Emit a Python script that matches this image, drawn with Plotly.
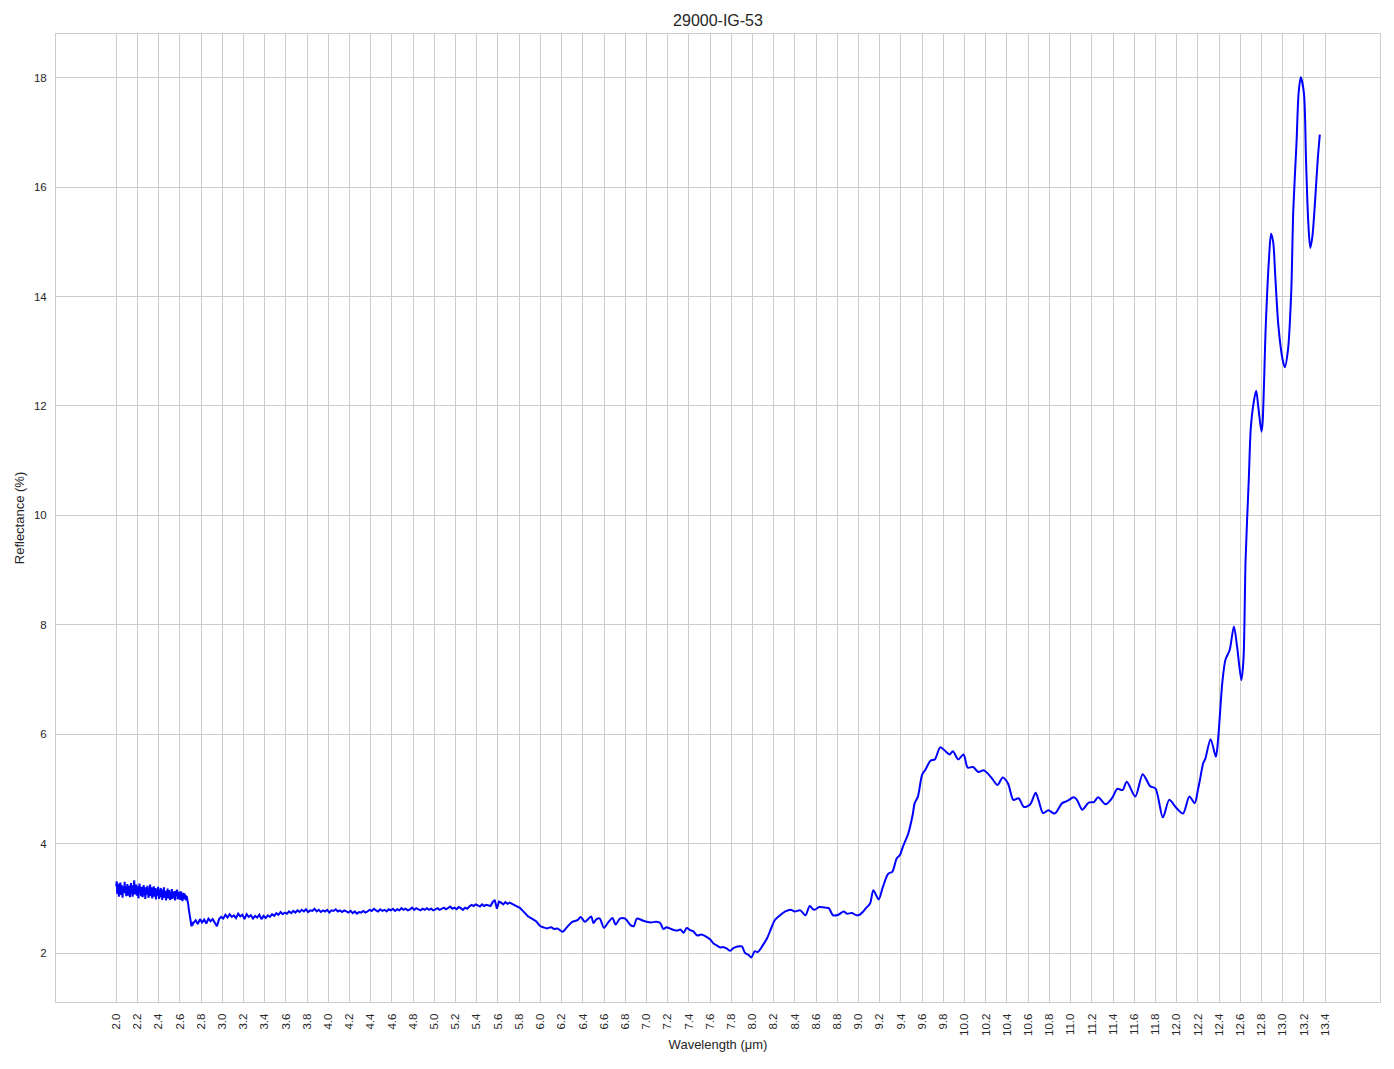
import numpy as np
import plotly.graph_objects as go

# ---- data ----
# noisy start: 2.000 .. 2.725, sampled every 0.005 um
noisy_start_wl0 = 2.000
noisy_start_step = 0.005
refl_noisy_start = [
    3.22, 3.31, 3.08, 3.14, 3.27, 3.03, 3.19, 3.12, 3.29, 3.06,
    3.18, 3.24, 3.01, 3.21, 3.10, 3.15, 3.30, 3.09, 3.20, 3.04,
    3.13, 3.26, 3.18, 3.05, 3.23, 3.11, 3.02, 3.20, 3.28, 3.08,
    3.17, 3.03, 3.24, 3.14, 3.33, 3.07, 3.19, 3.10, 3.25, 3.05,
    3.16, 3.22, 3.00, 3.13, 3.27, 3.09, 3.18, 3.04, 3.21, 3.12,
    3.02, 3.19, 3.24, 3.06, 3.15, 2.99, 3.20, 3.11, 3.07, 3.23,
    3.10, 3.01, 3.18, 3.13, 3.25, 3.04, 3.12, 3.20, 3.00, 3.16,
    3.08, 3.22, 3.03, 3.14, 3.19, 2.98, 3.11, 3.17, 3.05, 3.21,
    3.07, 2.99, 3.15, 3.10, 3.19, 3.02, 3.13, 2.97, 3.16, 3.06,
    3.20, 3.01, 3.09, 3.14, 2.96, 3.12, 3.05, 3.18, 3.00, 3.10,
    3.15, 3.03, 2.97, 3.12, 3.06, 3.17, 2.99, 3.08, 3.13, 3.01,
    3.11, 2.96, 3.14, 3.05, 3.09, 3.16, 2.98, 3.07, 3.12, 3.00,
    3.08, 2.97, 3.13, 3.02, 3.06, 2.95, 3.10, 3.03, 2.98, 3.09,
    3.01, 3.06, 2.96, 3.04, 3.00, 2.97,
    2.88, 2.80, 2.72, 2.65, 2.58, 2.53, 2.49, 2.55, 2.50, 2.57,
]

# plateau: 2.73 .. 5.89, sampled every 0.02 um
plateau_wl0 = 2.73
plateau_step = 0.02
refl_plateau = [
    2.55, 2.60, 2.53, 2.62, 2.56, 2.61, 2.54, 2.63, 2.58, 2.62,
    2.55, 2.49, 2.62, 2.66, 2.63, 2.70, 2.65, 2.71, 2.66, 2.69,
    2.64, 2.72, 2.67, 2.70, 2.62, 2.71, 2.66, 2.69, 2.63, 2.68,
    2.65, 2.70, 2.62, 2.68, 2.64, 2.69, 2.66, 2.71, 2.68, 2.73,
    2.70, 2.75, 2.71, 2.74, 2.72, 2.76, 2.73, 2.77, 2.74, 2.78,
    2.75, 2.79, 2.76, 2.80, 2.75, 2.78, 2.77, 2.81, 2.76, 2.79,
    2.75, 2.78, 2.76, 2.79, 2.74, 2.78, 2.77, 2.80, 2.76, 2.78,
    2.75, 2.78, 2.76, 2.74, 2.77, 2.73, 2.76, 2.72, 2.75, 2.74,
    2.77, 2.74, 2.76, 2.79, 2.77, 2.81, 2.78, 2.76, 2.80, 2.77,
    2.79, 2.76, 2.80, 2.78, 2.81, 2.77, 2.80, 2.78, 2.82, 2.79,
    2.81, 2.78, 2.80, 2.83, 2.79, 2.82, 2.80, 2.78, 2.81, 2.79,
    2.82, 2.79, 2.81, 2.78, 2.80, 2.82, 2.79, 2.81, 2.83, 2.80,
    2.82, 2.85, 2.81, 2.83, 2.80, 2.84, 2.82, 2.79, 2.83, 2.81,
    2.85, 2.88, 2.86, 2.89, 2.87, 2.85, 2.89, 2.86, 2.88, 2.87,
    2.86, 2.93, 2.97, 2.81, 2.94, 2.92, 2.89, 2.93, 2.90, 2.92,
    2.90, 2.87, 2.85, 2.83, 2.82, 2.78, 2.74, 2.70, 2.66,
]

# smoother long-wave part
wl_smooth = [
    5.89, 5.92, 5.96, 6.00, 6.03, 6.06, 6.10, 6.13, 6.16, 6.21, 6.25, 6.30, 6.35,
    6.38, 6.42, 6.45, 6.48, 6.50, 6.53, 6.56, 6.60, 6.64, 6.68, 6.71, 6.75,
    6.80, 6.85, 6.88, 6.91, 6.97, 7.04, 7.09, 7.13, 7.16, 7.19, 7.22, 7.26,
    7.29, 7.32, 7.35, 7.38, 7.41, 7.44, 7.48, 7.52, 7.57, 7.60, 7.63, 7.67,
    7.70, 7.72, 7.76, 7.79, 7.82, 7.86, 7.90, 7.93, 7.96, 7.99, 8.02, 8.05,
    8.10, 8.14, 8.17, 8.21, 8.26, 8.31, 8.36, 8.40, 8.45, 8.50, 8.54, 8.58,
    8.63, 8.69, 8.72, 8.76, 8.81, 8.86, 8.89, 8.94, 8.98, 9.01, 9.04, 9.07,
    9.11, 9.14, 9.19, 9.23, 9.28, 9.32, 9.36, 9.39, 9.42, 9.47, 9.51, 9.53,
    9.56, 9.60, 9.63, 9.68, 9.72, 9.77, 9.82, 9.86, 9.89, 9.94, 9.99, 10.03,
    10.08, 10.13, 10.18, 10.22, 10.26, 10.31, 10.36, 10.41, 10.46, 10.51,
    10.56, 10.62, 10.67, 10.70, 10.74, 10.79, 10.85, 10.92, 10.97, 11.03,
    11.06, 11.11, 11.17, 11.22, 11.26, 11.33, 11.39, 11.44, 11.49, 11.53,
    11.61, 11.68, 11.75, 11.80, 11.87, 11.93, 11.99, 12.06, 12.12, 12.17,
    12.20, 12.22, 12.25, 12.27, 12.32, 12.37, 12.39, 12.43, 12.46, 12.50,
    12.54, 12.57, 12.61, 12.63, 12.65, 12.68, 12.70, 12.73, 12.75, 12.77,
    12.80, 12.81, 12.84, 12.87, 12.89, 12.91, 12.93, 12.96, 13.00, 13.02,
    13.05, 13.08, 13.10, 13.13, 13.15, 13.17, 13.20, 13.22, 13.24, 13.26,
    13.28, 13.31, 13.33, 13.35,
]
refl_smooth = [
    2.66, 2.63, 2.58, 2.49, 2.47, 2.45, 2.47, 2.44, 2.45, 2.39, 2.47, 2.57, 2.60,
    2.66, 2.57, 2.62, 2.67, 2.55, 2.62, 2.63, 2.46, 2.56, 2.64, 2.52, 2.63,
    2.63, 2.51, 2.49, 2.63, 2.59, 2.56, 2.57, 2.55, 2.44, 2.47, 2.45, 2.42,
    2.41, 2.43, 2.37, 2.46, 2.42, 2.40, 2.32, 2.34, 2.29, 2.25, 2.18, 2.13,
    2.10, 2.11, 2.08, 2.04, 2.09, 2.12, 2.12, 2.00, 1.97, 1.92, 2.03, 2.02,
    2.15, 2.28, 2.42, 2.60, 2.69, 2.76, 2.79, 2.76, 2.78, 2.69, 2.86, 2.79,
    2.84, 2.83, 2.82, 2.69, 2.70, 2.76, 2.72, 2.73, 2.69, 2.70, 2.75, 2.82,
    2.91, 3.15, 2.98, 3.21, 3.45, 3.49, 3.73, 3.79, 3.95, 4.19, 4.52, 4.74,
    4.86, 5.26, 5.35, 5.52, 5.54, 5.76, 5.69, 5.63, 5.69, 5.54, 5.63, 5.39,
    5.40, 5.31, 5.34, 5.28, 5.19, 5.07, 5.21, 5.10, 4.80, 4.83,
    4.67, 4.72, 4.93, 4.78, 4.56, 4.61, 4.55, 4.74, 4.78, 4.85,
    4.80, 4.62, 4.75, 4.76, 4.85, 4.72, 4.83, 5.00, 4.98, 5.13,
    4.86, 5.27, 5.05, 5.01, 4.48, 4.80, 4.67, 4.55, 4.86, 4.74,
    4.98, 5.17, 5.47, 5.55, 5.91, 5.59, 5.89, 6.93, 7.36, 7.54,
    7.97, 7.60, 6.99, 7.36, 9.19, 10.65, 11.62, 12.11, 12.28, 11.98,
    11.53, 11.68, 13.45, 14.67, 15.15, 15.00, 14.37, 13.45, 12.84, 12.71,
    13.03, 14.06, 15.59, 16.80, 17.72, 18.01, 17.72, 16.49, 15.40, 14.89,
    15.10, 15.89, 16.50, 16.96,
]

x_tick_vals = [round(2.0 + 0.2 * i, 1) for i in range(58)]
x_tick_text = [f"{v:.1f}" for v in x_tick_vals]
y_tick_vals = [2, 4, 6, 8, 10, 12, 14, 16, 18]

title_text = "29000-IG-53"
x_title = "Wavelength (μm)"
y_title = "Reflectance (%)"

# ---- build ----
wl_noisy_start = np.round(noisy_start_wl0 + noisy_start_step * np.arange(len(refl_noisy_start)), 4)
wl_plateau = np.round(plateau_wl0 + plateau_step * np.arange(len(refl_plateau)), 4)

wl_rough = np.concatenate([wl_noisy_start, wl_plateau])
refl_rough = np.concatenate([refl_noisy_start, refl_plateau])

fig = go.Figure()
fig.add_trace(go.Scatter(x=wl_rough, y=refl_rough, mode="lines",
                         line=dict(color="#0000ff", width=2),
                         showlegend=False, hoverinfo="x+y"))
fig.add_trace(go.Scatter(x=wl_smooth, y=refl_smooth, mode="lines",
                         line=dict(color="#0000ff", width=2, shape="spline", smoothing=0.8),
                         showlegend=False, hoverinfo="x+y"))

font_family = "Liberation Sans, Arial, DejaVu Sans, sans-serif"
grid_col = "#cccccc"
text_col = "#262626"

# the page body adds an 8px offset, so the figure is sized to fit within the window
fig.update_layout(
    width=1386, height=1061,
    margin=dict(l=48, r=14, t=26, b=67, autoexpand=False),
    paper_bgcolor="white", plot_bgcolor="white",
    font=dict(family=font_family, size=11.5, color=text_col),
    title=dict(text=title_text, x=0.5, xref="paper", xanchor="center",
               y=1 - 12 / 1061, yanchor="middle",
               font=dict(size=16, color=text_col)),
)
fig.update_xaxes(
    range=[1.4325, 13.9175], tickmode="array", tickvals=x_tick_vals, ticktext=x_tick_text,
    tickangle=-90, showgrid=True, gridcolor=grid_col, gridwidth=1,
    showline=True, linecolor=grid_col, linewidth=1, mirror=True, zeroline=False,
    ticks="", tickfont=dict(size=11.5, color=text_col), ticklabelstandoff=6,
    automargin=False,
    title=dict(text=x_title, font=dict(size=13, color=text_col), standoff=4),
)
fig.update_yaxes(
    range=[1.105, 18.80], tickmode="array", tickvals=y_tick_vals,
    showgrid=True, gridcolor=grid_col, gridwidth=1,
    showline=True, linecolor=grid_col, linewidth=1, mirror=True, zeroline=False,
    ticks="", tickfont=dict(size=11.5, color=text_col), ticklabelstandoff=6,
    automargin=False,
    title=dict(text=y_title, font=dict(size=13, color=text_col), standoff=6),
)

fig.write_html("out.html")
